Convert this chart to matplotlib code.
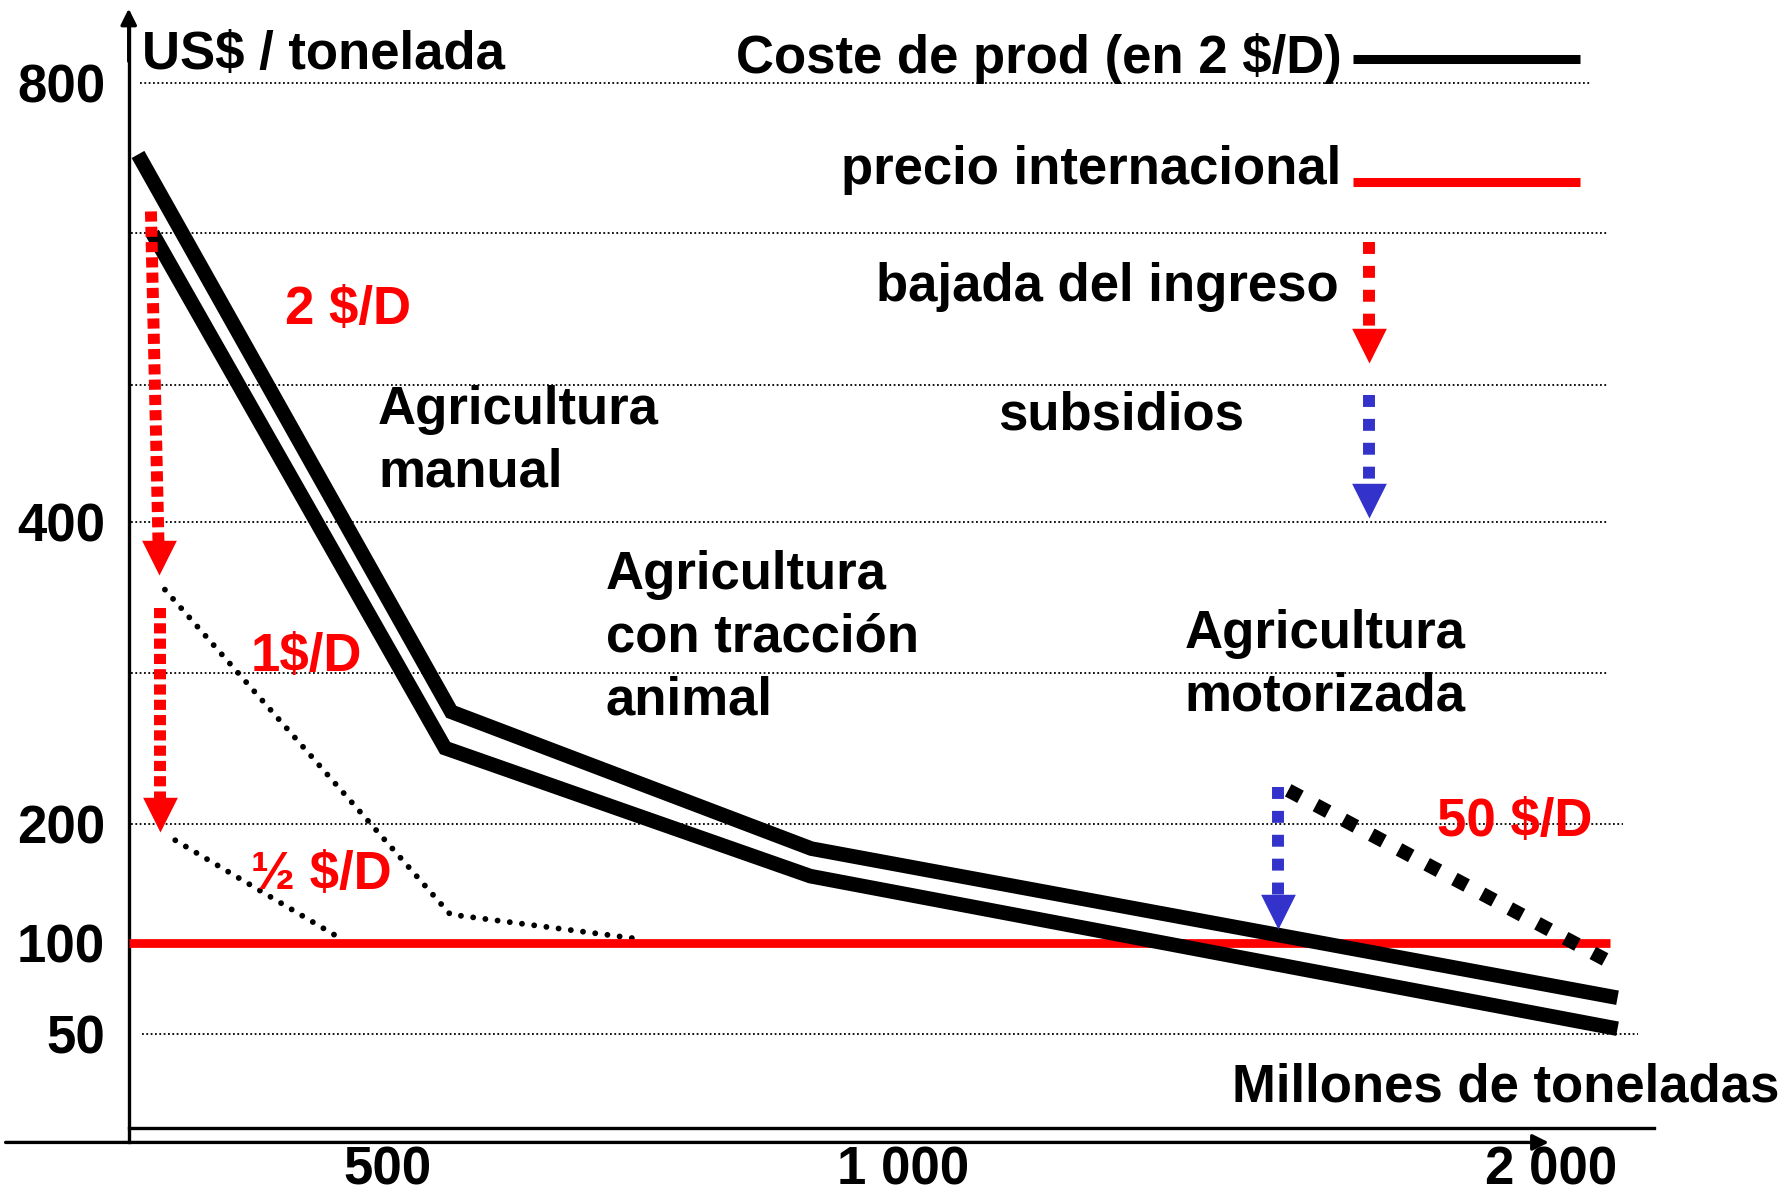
import numpy as np
import matplotlib
matplotlib.use("Agg")
import matplotlib.pyplot as plt

plt.rcParams["font.family"] = ["Liberation Sans", "DejaVu Sans"]
plt.rcParams["font.weight"] = "bold"

RED = "#ff0000"
BLUE = "#3333cc"
BLACK = "#000000"
FS = 38

# schematic axes: tick values and where they sit (pixels from left / from bottom)
X_TICKS = [0, 500, 1000, 2000]
X_TICK_PX = [128.7, 387.3, 903.2, 1551.4]
X_LABELS = ["0", "500", "1 000", "2 000"]
Y_TICKS = [50, 100, 200, 400, 800]
Y_TICK_PX = [163.8, 254.9, 374.5, 676.3, 1114.8]

Y_GRID = [800, 663, 525, 400, 300, 200, 50]
GRID_X0 = [22, 4, 4, 4, 4, 4, 26]
GRID_X1 = [2060, 2086, 2086, 2086, 2086, 2110, 2133]

# production cost at 2 $/D, drawn as two parallel strokes
COST_HI_X = [18, 562, 911, 2102]
COST_HI_Y = [735, 274, 179, 70]
COST_LO_X = [46, 556, 910, 2102]
COST_LO_Y = [663, 250, 156, 53]

# motorised agriculture at 50 $/D
MOTOR_X = [1594, 2083]
MOTOR_Y = [222, 91]

# cost curves at 1 $/D and 1/2 $/D
ONE_X = [70, 561, 748]
ONE_Y = [355, 124, 103]
HALF_X = [90, 409]
HALF_Y = [186, 104]

# international price
PRICE = 100
PRICE_X = [0, 2090]

# dashed arrows: start -> tip
ARROW_X0 = [43, 60, 1719, 1719, 1578]
ARROW_Y0 = [683, 343, 655, 516, 224]
ARROW_X1 = [59, 60, 1719, 1719, 1578]
ARROW_Y1 = [365, 193, 545, 403, 112]
ARROW_COLOR = [RED, RED, RED, BLUE, BLUE]
ARROW_DASH = [(0.85, 0.43), (0.85, 0.43), (1.0, 1.0), (1.0, 1.0), (1.0, 1.0)]

HEAD = [(0, 0), (-1, 2), (1, 2)]
HEAD_PX = 34


def interp_scale(vals, px):
    v = np.asarray(vals, float)
    p = np.asarray(px, float)
    lo = (p[1] - p[0]) / (v[1] - v[0])
    hi = (p[-1] - p[-2]) / (v[-1] - v[-2])
    v = np.r_[v[0] - 5000, v, v[-1] + 5000]
    p = np.r_[p[0] - 5000 * lo, p, p[-1] + 5000 * hi]
    return (lambda a: np.interp(a, v, p)), (lambda a: np.interp(a, p, v))


fig = plt.figure(figsize=(17.86, 11.98), dpi=100)
ax = fig.add_axes([0, 0, 1, 1])
fx, ix = interp_scale(X_TICKS, X_TICK_PX)
fy, iy = interp_scale(Y_TICKS, Y_TICK_PX)
ax.set_xscale("function", functions=(fx, ix))
ax.set_yscale("function", functions=(fy, iy))
ax.set_xlim(float(ix(0.0)), float(ix(1786.0)))
ax.set_ylim(float(iy(0.0)), float(iy(1198.0)))

for s in ("top", "right"):
    ax.spines[s].set_visible(False)
ax.spines["left"].set_position(("data", 0))
ax.spines["left"].set_bounds(-9.4, 850)
ax.spines["bottom"].set_position(("data", -1.3))
ax.spines["bottom"].set_bounds(0, 2158)
for s in ("left", "bottom"):
    ax.spines[s].set_linewidth(2.4)

ax.set_xticks(X_TICKS[1:], X_LABELS[1:])
ax.set_yticks(Y_TICKS, [str(v) for v in Y_TICKS])
ax.tick_params(length=0, labelsize=FS)
ax.tick_params(axis="x", pad=13)
ax.tick_params(axis="y", pad=17)

# axis arrows
arrow_kw = dict(arrowstyle="-|>", color=BLACK, lw=2.4, mutation_scale=24,
                shrinkA=0, shrinkB=0)
ax.annotate("", xy=(0, 868), xytext=(0, 820), arrowprops=arrow_kw)
ax.annotate("", xy=(1996, -9.4), xytext=(-238, -9.4), arrowprops=arrow_kw)

ax.hlines(Y_GRID, GRID_X0, GRID_X1, colors=BLACK, lw=1.3,
          linestyles=[(0, (1, 1.4))], zorder=1)

price_line, = ax.plot(PRICE_X, [PRICE, PRICE], color=RED, lw=6.3,
                      solid_capstyle="butt", zorder=3,
                      label="precio internacional")

cost_kw = dict(color=BLACK, lw=10.5, solid_joinstyle="miter",
               solid_capstyle="butt", zorder=4)
cost_line, = ax.plot(COST_HI_X, COST_HI_Y, label="Coste de prod (en 2 $/D)",
                     **cost_kw)
ax.plot(COST_LO_X, COST_LO_Y, **cost_kw)

ax.plot(MOTOR_X, MOTOR_Y, color=BLACK, lw=10, linestyle=(0, (1.0, 1.26)),
        dash_capstyle="butt", zorder=4)

for xs, ys in [(ONE_X, ONE_Y), (HALF_X, HALF_Y)]:
    ax.plot(xs, ys, color=BLACK, lw=4.2, linestyle=(0, (0.01, 2.1)),
            dash_capstyle="round", zorder=2)

for x0, y0, x1, y1, c, dash in zip(ARROW_X0, ARROW_Y0, ARROW_X1, ARROW_Y1,
                                   ARROW_COLOR, ARROW_DASH):
    p0 = ax.transData.transform((x0, y0))
    p1 = ax.transData.transform((x1, y1))
    d = (p1 - p0) / np.hypot(*(p1 - p0))
    bx, by = ax.transData.inverted().transform(p1 - d * HEAD_PX * 0.9)
    ax.plot([x0, bx], [y0, by], color=c, lw=8.6, linestyle=(0, dash),
            dash_capstyle="butt", zorder=5)
    ax.plot([x1], [y1], marker=HEAD, ms=50, color=c, mew=0, zorder=5)

leg = ax.legend(handles=[cost_line, price_line], loc="upper right",
                bbox_to_anchor=(1387 / 1568, 0.9728), frameon=False,
                markerfirst=False, fontsize=FS, handlelength=4.3,
                handletextpad=0.22, labelspacing=1.16, borderpad=0,
                borderaxespad=0)
# key lines sit a little below the text centre, the red one more so
for h, drop in zip(leg.legend_handles, [3.3, 12.3]):
    h.set_linewidth(6.5)
    h.set_ydata(np.asarray(h.get_ydata(), float) - drop)


def label(x, ys, lines, color=BLACK, ha="left"):
    for y, s in zip(ys, lines):
        ax.text(x, y, s, transform=ax.transAxes, ha=ha, va="center",
                fontsize=FS, color=color, fontweight="bold", zorder=6)


label(0.0797, [0.9544], ["US$ / tonelada"])
label(0.7494, [0.7605], ["bajada del ingreso"], ha="right")
label(0.5587, [0.6530], ["subsidios"])
label(0.1594, [0.7414], ["2 $/D"], RED)
label(0.2117, [0.6578, 0.6055], ["Agricultura", "manual"])
label(0.3393, [0.5200, 0.4677, 0.4154], ["Agricultura", "con tracción", "animal"])
label(0.1403, [0.4515], ["1$/D"], RED)
label(0.1403, [0.2700], ["½ $/D"], RED)
label(0.6633, [0.4705, 0.4183], ["Agricultura", "motorizada"])
label(0.8048, [0.3137], ["50 $/D"], RED)
label(0.9962, [0.0922], ["Millones de toneladas"], ha="right")

fig.savefig("out.png", dpi=100)
